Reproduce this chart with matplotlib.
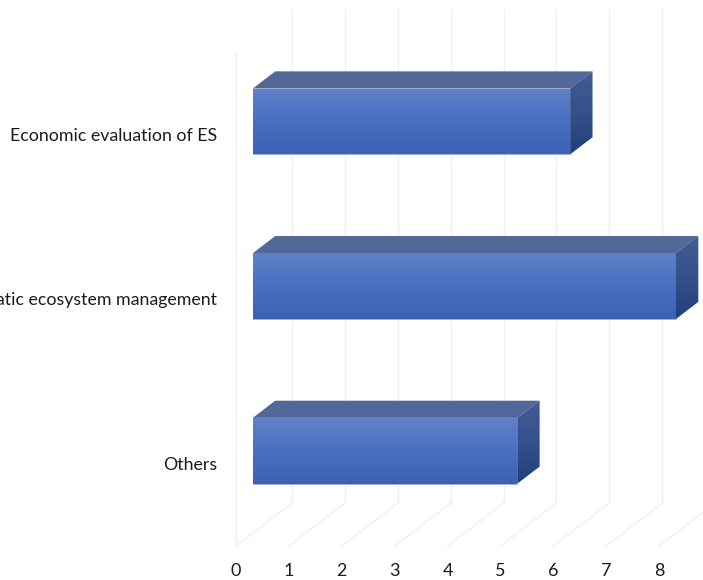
import numpy as np
import matplotlib
matplotlib.use("Agg")
import matplotlib.pyplot as plt
from matplotlib.colors import LinearSegmentedColormap
from matplotlib.patches import Polygon

categories = ["Economic evaluation of ES", "Aquatic ecosystem management", "Others"]
values = [6, 8, 5]
value_ticks = list(range(9))

# Oblique 3D look: how far the chart's back plane is shifted, in axis units
DEPTH_X = 1.059
DEPTH_Y = 0.2606
BAR_NEAR = 0.30
BAR_FAR = 0.70
BAR_HALF = 0.2
AXIS_MAX = 8.83
GRID = "#f0f0f0"

plt.rcParams["font.family"] = ["Lato", "DejaVu Sans"]

W, H = 703, 580
fig = plt.figure(figsize=(W / 100, H / 100), dpi=100, facecolor="white")
ax = fig.add_axes([236 / W, 1 - 546 / H, 467 / W, 494 / H])
ax.set_xlim(0, AXIS_MAX)
ax.set_ylim(2.5, -0.5)


def project(v, c, depth):
    """Map a value, category position and depth (0 front, 1 back) to axis coordinates."""
    return v + depth * DEPTH_X, c - depth * DEPTH_Y


def gradient_face(points, stops, zorder):
    """Fill a polygon with a vertical colour gradient."""
    pts = np.array(points)
    cmap = LinearSegmentedColormap.from_list("face", stops)
    ramp = np.linspace(0, 1, 256).reshape(-1, 1)
    extent = (pts[:, 0].min(), pts[:, 0].max(), pts[:, 1].max(), pts[:, 1].min())
    img = ax.imshow(ramp, cmap=cmap, aspect="auto", extent=extent, origin="upper",
                    zorder=zorder, interpolation="bilinear")
    clip = Polygon(pts, closed=True, transform=ax.transData, fill=False, edgecolor="none")
    ax.add_patch(clip)
    img.set_clip_path(clip)


# Floor and back-wall gridlines
for v in value_ticks:
    fx, fy = project(v, 2.5, 0)
    bx, by = project(v, 2.5, 1)
    tx, ty = project(v, -0.5, 1)
    ax.plot([fx, bx], [fy, by], color=GRID, lw=1.0, clip_on=False, zorder=1)
    ax.plot([bx, tx], [by, ty], color=GRID, lw=1.0, clip_on=False, zorder=1)
ax.plot([0, 0], [2.5, -0.5], color=GRID, lw=1.0, clip_on=False, zorder=1)

# Bars: top, end and front faces
for i, val in enumerate(values):
    top, bottom = i - BAR_HALF, i + BAR_HALF
    top_face = [project(0, top, BAR_NEAR), project(val, top, BAR_NEAR),
                project(val, top, BAR_FAR), project(0, top, BAR_FAR)]
    ax.add_patch(Polygon(top_face, closed=True, facecolor="#526899", edgecolor="none", zorder=3))
    end_face = [project(val, top, BAR_NEAR), project(val, top, BAR_FAR),
                project(val, bottom, BAR_FAR), project(val, bottom, BAR_NEAR)]
    gradient_face(end_face, ["#435c94", "#34518c", "#233f7a"], 3)
    front_face = [project(0, top, BAR_NEAR), project(val, top, BAR_NEAR),
                  project(val, bottom, BAR_NEAR), project(0, bottom, BAR_NEAR)]
    gradient_face(front_face, ["#6281c8", "#486fc2", "#3c62b3"], 4)
    # Faint highlight along the lower edge of the front face
    ax.plot([project(0, bottom, BAR_NEAR)[0], project(val, bottom, BAR_NEAR)[0]],
            [project(0, bottom, BAR_NEAR)[1]] * 2, color="#8ba6dc", lw=0.6, zorder=5)

ax.set_xlim(0, AXIS_MAX)
ax.set_ylim(2.5, -0.5)

ax.set_xticks(value_ticks)
ax.set_yticks(range(len(categories)))
ax.set_yticklabels(categories)
ax.tick_params(axis="x", length=0, pad=12.5, labelsize=13, labelcolor="#1c1c1c")
ax.tick_params(axis="y", length=0, pad=13.5, labelsize=12.75, labelcolor="#1c1c1c")
for side in ax.spines.values():
    side.set_visible(False)
ax.patch.set_alpha(0)

fig.savefig("out.png", dpi=100, facecolor="white")
